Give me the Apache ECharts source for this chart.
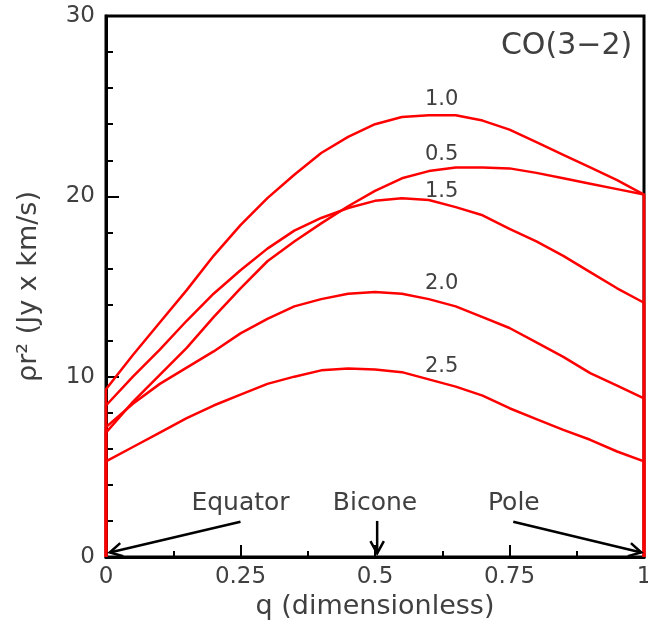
<!DOCTYPE html>
<html>
<head>
<meta charset="utf-8">
<script src="https://cdn.jsdelivr.net/npm/echarts@6/dist/echarts.min.js"></script>
<style>
html,body{margin:0;padding:0;background:#fff;}
#chart{width:648px;height:630px;}
</style>
</head>
<body>
<div id="chart"></div>
<script>
// ---- data ----
const qValues = [0,0.05,0.1,0.15,0.2,0.25,0.3,0.35,0.4,0.45,0.5,0.55,0.6,0.65,0.7,0.75,0.8,0.85,0.9,0.95,1.0];
const curve10 = [9.3,11.2,13.0,14.8,16.7,18.4,19.9,21.2,22.4,23.3,24.0,24.4,24.5,24.5,24.2,23.7,23.0,22.3,21.6,20.9,20.1];
const curve05 = [6.9,8.6,10.1,11.6,13.3,14.9,16.4,17.5,18.5,19.45,20.3,21.0,21.4,21.6,21.6,21.55,21.3,21.0,20.7,20.4,20.1];
const curve15 = [8.4,10.0,11.5,13.1,14.6,15.9,17.1,18.1,18.8,19.35,19.75,19.9,19.8,19.4,18.95,18.2,17.5,16.7,15.8,14.9,14.1];
const curve20 = [7.2,8.5,9.6,10.5,11.4,12.4,13.2,13.9,14.3,14.6,14.7,14.6,14.3,13.9,13.3,12.7,11.9,11.1,10.2,9.5,8.8];
const curve25 = [5.3,6.1,6.9,7.7,8.4,9.0,9.6,10.0,10.35,10.45,10.4,10.25,9.85,9.45,8.95,8.25,7.65,7.05,6.5,5.85,5.3];
const curveNames = ['1.0','0.5','1.5','2.0','2.5'];
const xTickLabels = ['0','0.25','0.5','0.75','1'];
const yTickLabels = ['0','10','20','30'];
const titleText = 'CO(3\u22122)';
const annotationTexts = ['Equator','Bicone','Pole'];

// ---- layout / style (not data) ----
const curveLabelPos = [[0.624,25.35],[0.624,22.3],[0.624,20.25],[0.624,15.15],[0.624,10.55]];
const titlePos = [0.856,28.35];
const annotationTextPos = [[0.25,2.95],[0.5,2.95],[0.758,2.95]];
const arrowPos = [
  {from:[0.25,1.95], to:[0.007,0.25]},
  {from:[0.504,2.0], to:[0.504,0.2]},
  {from:[0.757,1.95], to:[0.995,0.25]}
];
const FONT = 'DejaVu Sans';
const TXT = '#404040';

const allCurves = [curve10, curve05, curve15, curve20, curve25];

const chart = echarts.init(document.getElementById('chart'));
const option = {
  animation:false,
  backgroundColor:'#fff',
  grid:{left:106,right:4,top:16,bottom:73,containLabel:false,outerBoundsMode:'none',
        show:true,borderColor:'#000',borderWidth:3,backgroundColor:'transparent'},
  xAxis:{
    type:'value',min:0,max:1,interval:0.25,
    name:'q (dimensionless)',nameLocation:'middle',nameGap:33,
    nameTextStyle:{fontSize:27,color:TXT,fontFamily:FONT},
    axisLine:{show:true,lineStyle:{color:'#000',width:3}},
    axisTick:{show:true,inside:true,length:12,lineStyle:{color:'#000',width:2}},
    minorTick:{show:true,splitNumber:2,length:6,lineStyle:{color:'#000',width:2}},
    splitLine:{show:false},
    axisLabel:{fontSize:23,color:TXT,fontFamily:FONT,margin:9,
      formatter:(v)=>xTickLabels[Math.round(v/0.25)]}
  },
  yAxis:{
    type:'value',min:0,max:30,interval:10,
    name:'\u03C1r\u00B2 (Jy x km/s)',nameLocation:'middle',nameGap:64,nameRotate:90,
    nameTextStyle:{fontSize:27,color:TXT,fontFamily:FONT},
    axisLine:{show:true,lineStyle:{color:'#000',width:3}},
    axisTick:{show:true,inside:true,length:13,lineStyle:{color:'#000',width:2}},
    minorTick:{show:true,splitNumber:5,length:7,lineStyle:{color:'#000',width:2}},
    splitLine:{show:false},
    axisLabel:{fontSize:23,color:TXT,fontFamily:FONT,margin:11,
      formatter:(v)=>yTickLabels[Math.round(v/10)]}
  },
  series: allCurves.map((c,i)=>({
    type:'line',name:curveNames[i],symbol:'none',clip:false,z:5,
    lineStyle:{color:'#ff0000',width:2.5},
    data:[[0,0]].concat(qValues.map((q,j)=>[q,c[j]])).concat([[1,0]])
  }))
};
chart.setOption(option);

function px(p){return chart.convertToPixel({gridIndex:0},p);}
const graphics = [];
curveNames.forEach((n,i)=>{
  const p = px(curveLabelPos[i]);
  graphics.push({type:'text',x:p[0],y:p[1],z:10,style:{text:n,fontSize:21,fill:TXT,fontFamily:FONT,align:'center',verticalAlign:'middle'}});
});
{
  const p = px(titlePos);
  graphics.push({type:'text',x:p[0],y:p[1],z:10,style:{text:titleText,fontSize:30,fill:TXT,fontFamily:FONT,align:'center',verticalAlign:'middle'}});
}
annotationTexts.forEach((t,i)=>{
  const p = px(annotationTextPos[i]);
  graphics.push({type:'text',x:p[0],y:p[1],z:10,style:{text:t,fontSize:25,fill:TXT,fontFamily:FONT,align:'center',verticalAlign:'middle'}});
});
arrowPos.forEach(a=>{
  const s = px(a.from), e = px(a.to);
  const ang = Math.atan2(e[1]-s[1], e[0]-s[0]);
  const L = 14, h = 0.5;
  const a1 = [e[0]-L*Math.cos(ang-h), e[1]-L*Math.sin(ang-h)];
  const a2 = [e[0]-L*Math.cos(ang+h), e[1]-L*Math.sin(ang+h)];
  graphics.push({type:'line',z:10,shape:{x1:s[0],y1:s[1],x2:e[0],y2:e[1]},style:{stroke:'#000',lineWidth:2.5}});
  graphics.push({type:'polyline',z:10,shape:{points:[a1,e,a2]},style:{stroke:'#000',lineWidth:2.5,fill:null}});
});
chart.setOption({graphic:graphics});
</script>
</body>
</html>
